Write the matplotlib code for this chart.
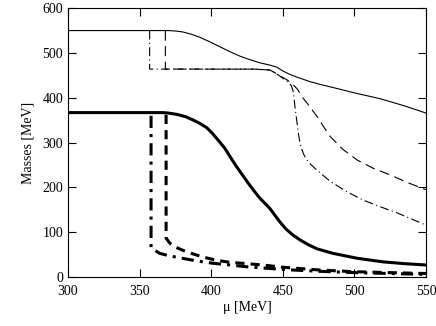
import numpy as np
import matplotlib
matplotlib.use("Agg")
import matplotlib.pyplot as plt

plt.rcParams['font.family'] = ['Liberation Serif', 'DejaVu Serif']

# thin solid
mu_a = [300, 370, 375, 380, 386, 392, 399, 406, 413, 420, 427, 434, 441, 446, 450,
        455, 460, 469, 476, 485, 500, 518, 535, 550]
m_a = [550, 550, 549, 547, 542, 535, 525, 514, 503, 493, 485, 478, 473, 468, 460,
       452, 446, 436, 430, 423, 411, 398, 382, 366]

# thin dash-dot
mu_b = [357, 357, 370, 400, 430, 441, 445, 449, 453, 456, 457.5, 458.5, 460, 461, 462,
        463.5, 465, 467, 470, 474, 483, 495, 506, 518, 530, 550]
m_b = [550, 464, 464, 464, 464, 462, 455, 446, 437, 427, 412, 380, 343, 318, 300,
       283, 271, 261, 250, 238, 214, 190, 172, 157, 143, 116]

# thin dashed
mu_c = [368, 368, 380, 400, 430, 441, 445, 449, 453, 457, 460, 464, 467, 470, 474,
        478, 483, 492, 502, 513, 525, 537, 550]
m_c = [550, 464, 464, 464, 464, 462, 455, 447, 440, 430, 420, 400, 388, 375, 358,
       338, 314, 285, 261, 243, 228, 211, 195]

# thick solid
mu_d = [300, 366, 370, 376, 382, 387, 392, 397, 401, 405, 409.6, 413.5, 417.8, 422,
        426, 430, 434, 438, 441, 444, 448, 452, 457, 462, 468, 474, 485, 502, 520,
        535, 550]
m_d = [367, 367, 366, 363, 358, 351, 343, 333, 320, 305, 287, 267, 246, 227,
       209, 192, 176, 163, 153, 140, 123, 108, 94, 83, 72, 63, 53, 42, 34,
       30, 27]

# thick dashed
mu_e = [368.5, 368.5, 371, 375, 380, 387, 394, 403, 413, 425, 436, 450, 475, 500, 525, 550]
m_e = [362, 87, 76, 67, 60, 52, 45, 38, 33, 30, 27, 22, 16, 12, 10, 8]

# thick dash-dot
mu_f = [358, 358, 364, 370, 378, 390, 401, 413, 425, 450, 475, 500, 525, 550]
m_f = [360, 65, 53, 48, 43, 36, 31, 27, 23, 17, 13, 10, 8, 6]

fig = plt.figure(figsize=(4.36, 3.26), dpi=100)
ax = fig.add_axes([0.156, 0.150, 0.821, 0.825])

ax.plot(mu_a, m_a, c="black", lw=0.8)
ax.plot(mu_b, m_b, c="black", lw=0.8, dashes=[8, 3, 1, 3])
ax.plot(mu_c, m_c, c="black", lw=0.8, dashes=[9, 5])
ax.plot(mu_d, m_d, c="black", lw=2.2)
ax.plot(mu_e, m_e, c="black", lw=2.2, dashes=[3, 2])
ax.plot(mu_f, m_f, c="black", lw=2.2, dashes=[4, 2, 1, 2])

ax.set_xlim(300, 550)
ax.set_ylim(0, 600)
ax.set_xticks([300, 350, 400, 450, 500, 550])
ax.set_yticks([0, 100, 200, 300, 400, 500, 600])
ax.tick_params(direction="in", top=True, right=True, length=6, labelsize=10)
ax.tick_params(axis="x", pad=6)
ax.set_xlabel("μ [MeV]", fontsize=10, labelpad=2)
ax.set_ylabel("Masses [MeV]", fontsize=10, labelpad=6)

fig.savefig("out.png", dpi=100)
